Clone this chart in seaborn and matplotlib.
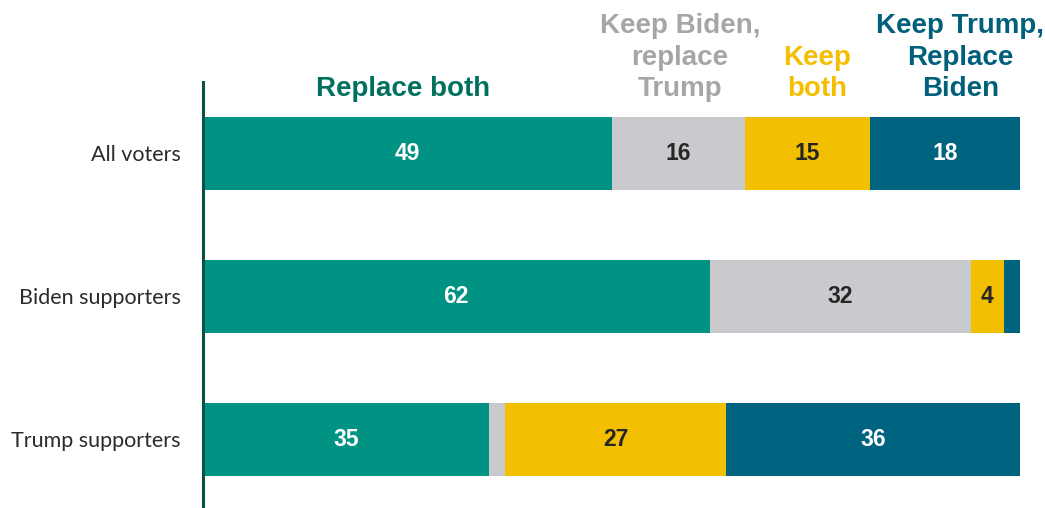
import pandas as pd
import matplotlib.pyplot as plt
import seaborn as sns

# Data
groups = ['All voters', 'Biden supporters', 'Trump supporters']
series = ['Replace both', 'Keep Biden,\nreplace\nTrump', 'Keep\nboth', 'Keep Trump,\nReplace\nBiden']
replace_both = [49, 62, 35]
keep_biden = [16, 32, 2]
keep_both = [15, 4, 27]
keep_trump = [18, 2, 36]
# labels shown inside the bars (small segments unlabeled)
show_min = 3

bar_colors = ['#009384', '#C8CACD', '#F2C000', '#00637F']
head_colors = ['#00705F', '#A6A6A6', '#F5BE00', '#005F7A']
text_colors = ['white', '#262626', '#262626', 'white']
head_x = [24.5, 58.4, 75.2, 92.7]

df = pd.DataFrame({'group': groups, 's0': replace_both, 's1': keep_biden,
                   's2': keep_both, 's3': keep_trump})
cols = ['s0', 's1', 's2', 's3']
total = df[cols].sum(axis=1)
pct = df[cols].div(total, axis=0) * 100
cum = pct.cumsum(axis=1)

sns.set_style('white')
fig = plt.figure(figsize=(10.45, 5.08), dpi=100)
ax = fig.add_axes([203 / 1045, 0, 817 / 1045, 1 - 82 / 508])

# stacked bars: draw the cumulative totals from the outermost segment inward
for i in reversed(range(4)):
    sns.barplot(x=cum[cols[i]], y=df['group'], orient='h', color=bar_colors[i],
                width=0.51, saturation=1, ax=ax, linewidth=0)

for r in range(len(groups)):
    left = 0
    for i, c in enumerate(cols):
        w = pct.loc[r, c]
        if df.loc[r, c] >= show_min:
            ax.text(left + w / 2, r, str(df.loc[r, c]), ha='center', va='center',
                    fontsize=16.5, fontweight='bold', color=text_colors[i],
                    family='Liberation Sans')
        left += w

for i in range(4):
    fig.text((203 + head_x[i] * 8.17) / 1045, 1 - 102 / 508, series[i],
             ha='center', va='bottom', fontsize=20, fontweight='bold',
             color=head_colors[i], family='Liberation Sans', linespacing=1.27)

ax.set_xlim(0, 100)
ax.set_ylim(2.48, -0.5)
ax.set_xlabel('')
ax.set_ylabel('')
ax.set_xticks([])
ax.tick_params(axis='y', length=0, pad=16)
for lab in ax.get_yticklabels():
    lab.set_fontsize(15.5)
    lab.set_color('#2b2b2b')
    lab.set_family('Lato')
for s in ['top', 'right', 'bottom']:
    ax.spines[s].set_visible(False)
ax.spines['left'].set_color('#0B5147')
ax.spines['left'].set_linewidth(2.2)

fig.savefig('out.png', dpi=100)
